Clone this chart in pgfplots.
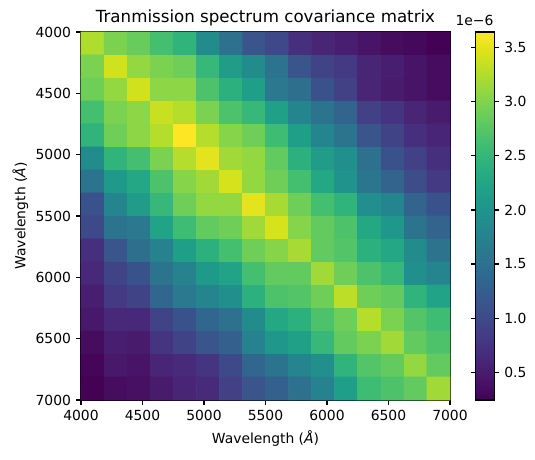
\documentclass[border=0pt]{standalone}
\usepackage{fontspec}
\setmainfont{DejaVu Sans}
\usepackage{pgfplots}
\usepackage{pgfplotstable}
\pgfplotsset{compat=1.18}

% Covariance matrix of the transmission spectrum (units of 1e-6),
% one row per wavelength bin; bin centres every 187.5 A from 4093.75 A.
\pgfplotstableread{
x y c
4093.75 4093.75 3.24
4281.25 4093.75 2.97
4468.75 4093.75 2.86
4656.25 4093.75 2.63
4843.75 4093.75 2.46
5031.25 4093.75 1.88
5218.75 4093.75 1.50
5406.25 4093.75 1.13
5593.75 4093.75 0.99
5781.25 4093.75 0.69
5968.75 4093.75 0.59
6156.25 4093.75 0.52
6343.75 4093.75 0.42
6531.25 4093.75 0.35
6718.75 4093.75 0.31
6906.25 4093.75 0.25
4093.75 4281.25 2.97
4281.25 4281.25 3.41
4468.75 4281.25 3.10
4656.25 4281.25 2.97
4843.75 4281.25 2.90
5031.25 4281.25 2.52
5218.75 4281.25 2.12
5406.25 4281.25 1.88
5593.75 4281.25 1.54
5781.25 4281.25 1.13
5968.75 4281.25 0.93
6156.25 4281.25 0.82
6343.75 4281.25 0.59
6531.25 4281.25 0.52
6718.75 4281.25 0.42
6906.25 4281.25 0.35
4093.75 4468.75 2.90
4281.25 4468.75 3.10
4468.75 4468.75 3.41
4656.25 4468.75 3.07
4843.75 4468.75 3.07
5031.25 4468.75 2.69
5218.75 4468.75 2.42
5406.25 4468.75 2.15
5593.75 4468.75 1.61
5781.25 4468.75 1.47
5968.75 4468.75 1.10
6156.25 4468.75 0.89
6343.75 4468.75 0.59
6531.25 4468.75 0.48
6718.75 4468.75 0.42
6906.25 4468.75 0.35
4093.75 4656.25 2.63
4281.25 4656.25 2.97
4468.75 4656.25 3.07
4656.25 4656.25 3.37
4843.75 4656.25 3.27
5031.25 4656.25 2.97
5218.75 4656.25 2.69
5406.25 4656.25 2.52
5593.75 4656.25 2.18
5781.25 4656.25 1.78
5968.75 4656.25 1.54
6156.25 4656.25 1.33
6343.75 4656.25 0.89
6531.25 4656.25 0.76
6718.75 4656.25 0.59
6906.25 4656.25 0.48
4093.75 4843.75 2.46
4281.25 4843.75 2.90
4468.75 4843.75 3.07
4656.25 4843.75 3.27
4843.75 4843.75 3.65
5031.25 4843.75 3.27
5218.75 4843.75 3.03
5406.25 4843.75 2.90
5593.75 4843.75 2.59
5781.25 4843.75 2.15
5968.75 4843.75 1.78
6156.25 4843.75 1.54
6343.75 4843.75 1.13
6531.25 4843.75 0.93
6718.75 4843.75 0.69
6906.25 4843.75 0.59
4093.75 5031.25 1.88
4281.25 5031.25 2.46
4468.75 5031.25 2.63
4656.25 5031.25 2.97
4843.75 5031.25 3.27
5031.25 5031.25 3.51
5218.75 5031.25 3.17
5406.25 5031.25 3.10
5593.75 5031.25 2.83
5781.25 5031.25 2.42
5968.75 5031.25 2.12
6156.25 5031.25 1.95
6343.75 5031.25 1.50
6531.25 5031.25 1.10
6718.75 5031.25 0.89
6906.25 5031.25 0.69
4093.75 5218.75 1.54
4281.25 5218.75 2.08
4468.75 5218.75 2.29
4656.25 5218.75 2.69
4843.75 5218.75 3.03
5031.25 5218.75 3.17
5218.75 5218.75 3.44
5406.25 5218.75 3.10
5593.75 5218.75 2.90
5781.25 5218.75 2.63
5968.75 5218.75 2.29
6156.25 5218.75 1.98
6343.75 5218.75 1.57
6531.25 5218.75 1.33
6718.75 5218.75 1.03
6906.25 5218.75 0.82
4093.75 5406.25 1.10
4281.25 5406.25 1.78
4468.75 5406.25 2.12
4656.25 5406.25 2.52
4843.75 5406.25 2.90
5031.25 5406.25 3.10
5218.75 5406.25 3.10
5406.25 5406.25 3.51
5593.75 5406.25 3.20
5781.25 5406.25 2.90
5968.75 5406.25 2.63
6156.25 5406.25 2.46
6343.75 5406.25 1.91
6531.25 5406.25 1.78
6718.75 5406.25 1.33
6906.25 5406.25 1.10
4093.75 5593.75 0.99
4281.25 5593.75 1.54
4468.75 5593.75 1.61
4656.25 5593.75 2.22
4843.75 5593.75 2.59
5031.25 5593.75 2.83
5218.75 5593.75 2.90
5406.25 5593.75 3.17
5593.75 5593.75 3.44
5781.25 5593.75 3.03
5968.75 5593.75 2.83
6156.25 5593.75 2.69
6343.75 5593.75 2.29
6531.25 5593.75 2.05
6718.75 5593.75 1.54
6906.25 5593.75 1.33
4093.75 5781.25 0.69
4281.25 5781.25 1.13
4468.75 5781.25 1.47
4656.25 5781.25 1.74
4843.75 5781.25 2.15
5031.25 5781.25 2.42
5218.75 5781.25 2.63
5406.25 5781.25 2.90
5593.75 5781.25 3.03
5781.25 5781.25 3.20
5968.75 5781.25 2.83
6156.25 5781.25 2.73
6343.75 5781.25 2.42
6531.25 5781.25 2.29
6718.75 5781.25 1.88
6906.25 5781.25 1.54
4093.75 5968.75 0.62
4281.25 5968.75 0.93
4468.75 5968.75 1.10
4656.25 5968.75 1.54
4843.75 5968.75 1.74
5031.25 5968.75 2.08
5218.75 5968.75 2.22
5406.25 5968.75 2.63
5593.75 5968.75 2.83
5781.25 5968.75 2.83
5968.75 5968.75 3.17
6156.25 5968.75 2.90
6343.75 5968.75 2.69
6531.25 5968.75 2.52
6718.75 5968.75 1.95
6906.25 5968.75 1.78
4093.75 6156.25 0.52
4281.25 6156.25 0.82
4468.75 6156.25 0.93
4656.25 6156.25 1.37
4843.75 6156.25 1.61
5031.25 6156.25 1.78
5218.75 6156.25 1.95
5406.25 6156.25 2.42
5593.75 6156.25 2.69
5781.25 6156.25 2.73
5968.75 6156.25 2.90
6156.25 6156.25 3.31
6343.75 6156.25 2.90
6531.25 6156.25 2.83
6718.75 6156.25 2.46
6906.25 6156.25 2.22
4093.75 6343.75 0.45
4281.25 6343.75 0.62
4468.75 6343.75 0.62
4656.25 6343.75 0.93
4843.75 6343.75 1.10
5031.25 6343.75 1.37
5218.75 6343.75 1.50
5406.25 6343.75 1.88
5593.75 6343.75 2.29
5781.25 6343.75 2.42
5968.75 6343.75 2.69
6156.25 6343.75 2.90
6343.75 6343.75 3.27
6531.25 6343.75 2.97
6718.75 6343.75 2.73
6906.25 6343.75 2.59
4093.75 6531.25 0.35
4281.25 6531.25 0.52
4468.75 6531.25 0.48
4656.25 6531.25 0.76
4843.75 6531.25 0.93
5031.25 6531.25 1.13
5218.75 6531.25 1.27
5406.25 6531.25 1.74
5593.75 6531.25 2.05
5781.25 6531.25 2.18
5968.75 6531.25 2.52
6156.25 6531.25 2.83
6343.75 6531.25 2.97
6531.25 6531.25 3.17
6718.75 6531.25 2.83
6906.25 6531.25 2.69
4093.75 6718.75 0.28
4281.25 6718.75 0.45
4468.75 6718.75 0.42
4656.25 6718.75 0.59
4843.75 6718.75 0.65
5031.25 6718.75 0.76
5218.75 6718.75 0.99
5406.25 6718.75 1.37
5593.75 6718.75 1.54
5781.25 6718.75 1.78
5968.75 6718.75 1.95
6156.25 6718.75 2.46
6343.75 6718.75 2.73
6531.25 6718.75 2.83
6718.75 6718.75 3.10
6906.25 6718.75 2.83
4093.75 6906.25 0.25
4281.25 6906.25 0.35
4468.75 6906.25 0.38
4656.25 6906.25 0.48
4843.75 6906.25 0.59
5031.25 6906.25 0.65
5218.75 6906.25 0.89
5406.25 6906.25 1.13
5593.75 6906.25 1.27
5781.25 6906.25 1.50
5968.75 6906.25 1.74
6156.25 6906.25 2.15
6343.75 6906.25 2.59
6531.25 6906.25 2.69
6718.75 6906.25 2.83
6906.25 6906.25 3.17
}\covtable

\begin{document}
\begin{tikzpicture}
\begin{axis}[
  name=main,
  scale only axis,
  width=265.7pt, height=265pt,
  xmin=4000, xmax=7000, ymin=4000, ymax=7000,
  y dir=reverse,
  clip=false,
  axis line style={line width=0.8pt, black},
  xtick={4000,4500,...,7000},
  ytick={4000,4500,...,7000},
  tick align=outside, tick pos=left,
  major tick length=3.5pt,
  every tick/.style={line width=0.8pt, black},
  /pgf/number format/assume math mode=true,
  /pgf/number format/1000 sep={},
  tick label style={font=\fontsize{10}{12}\selectfont, inner sep=0pt},
  xticklabel style={anchor=north, yshift=-3.5pt},
  yticklabel style={anchor=east, xshift=-3.5pt},
  title={Tranmission spectrum covariance matrix},
  title style={at={(0.5,1)}, anchor=base, yshift=0.5pt, inner sep=0pt,
               font=\fontsize{12}{14}\selectfont},
  colormap/viridis,
  point meta min=0.242, point meta max=3.647,
  colorbar,
  colorbar style={
    at={(parent axis.north east)}, anchor=north west, xshift=10pt,
    scale only axis, width=13.4pt, height=265pt,
    axis line style={line width=0.8pt, black},
    ytick={0.5,1.0,...,3.5},
    tick align=outside, major tick length=3.5pt,
    every tick/.style={line width=0.8pt, black},
    yticklabel pos=right,
    yticklabel style={
      /pgf/number format/assume math mode=true,
      /pgf/number format/fixed,
      /pgf/number format/fixed zerofill,
      /pgf/number format/precision=1,
      font=\fontsize{10}{12}\selectfont, inner sep=0pt,
      anchor=west, xshift=3.5pt},
  },
]
\addplot[matrix plot*, mesh/cols=16, point meta=explicit]
  table[x=x, y=y, meta=c] {\covtable};

\node[anchor=base, font=\fontsize{10}{12}\selectfont, inner sep=0pt]
  at ([yshift=-31pt]axis description cs:0.5,0) {Wavelength (\textit{Å})};
\node[anchor=base, rotate=90, font=\fontsize{10}{12}\selectfont, inner sep=0pt]
  at ([xshift=-40pt]axis description cs:0,0.5) {Wavelength (\textit{Å})};
\node[anchor=base east, font=\fontsize{10}{12}\selectfont, inner sep=0pt,
      xshift=31.5pt, yshift=4.5pt]
  at (axis description cs:1,1) {1e−6};
\end{axis}
\pgfresetboundingbox
\path[use as bounding box] (-58.3pt,-42.5pt) rectangle (326.9pt,288pt);
\end{tikzpicture}
\end{document}
